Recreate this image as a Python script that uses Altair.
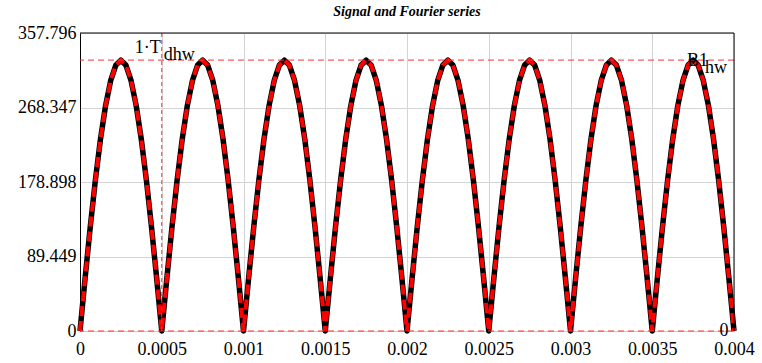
import altair as alt
import pandas as pd

# ---- values ----
period = 0.0005
hump_starts = [0.0, 0.0005, 0.001, 0.0015, 0.002, 0.0025, 0.003, 0.0035]
hump_phase = [i / 16 for i in range(17)]
hump_values = [0, 63.46, 124.48, 180.71, 230.0, 270.45, 300.51, 319.02, 325.27,
               319.02, 300.51, 270.45, 230.0, 180.71, 124.48, 63.46, 0]
peak = 325.27
y_ticks = [0, 89.449, 178.898, 268.347, 357.796]
x_ticks = [0, 0.0005, 0.001, 0.0015, 0.002, 0.0025, 0.003, 0.0035, 0.004]
y_max = 357.796
x_max = 0.004

rows = []
for s in hump_starts:
    for p, v in zip(hump_phase, hump_values):
        if rows and p == 0:
            continue
        rows.append({"t": s + p * period, "v": v})
df = pd.DataFrame(rows)

font = "Liberation Serif"
xs = alt.Scale(domain=[0, x_max], nice=False, zero=False)
ys = alt.Scale(domain=[0, y_max], nice=False, zero=False)

x_axis = alt.Axis(values=x_ticks, format="~g", title=None, grid=True,
                  domainColor="#c8c8c8", labelPadding=9)
y_axis = alt.Axis(values=y_ticks, title=None, grid=True,
                  domainColor="black", labelPadding=4,
                  labelExpr="datum.value == 0 ? '0' : format(datum.value, '.3f')")

base = alt.Chart(df)
sig = base.mark_line(color="black", strokeWidth=5.5, strokeJoin="round").encode(
    x=alt.X("t:Q", scale=xs, axis=x_axis),
    y=alt.Y("v:Q", scale=ys, axis=y_axis),
)
four = base.mark_line(color="#ff0000", strokeWidth=4, strokeDash=[10, 5]).encode(
    x=alt.X("t:Q", scale=xs, axis=x_axis), y=alt.Y("v:Q", scale=ys, axis=y_axis))

hlines = alt.Chart(pd.DataFrame({"y": [peak, 0]})).mark_rule(
    color="#ff3030", strokeWidth=1, strokeDash=[6, 4]).encode(y=alt.Y("y:Q", scale=ys, axis=y_axis))
vline = alt.Chart(pd.DataFrame({"x": [period]})).mark_rule(
    color="#ff3030", strokeWidth=1, strokeDash=[4, 3]).encode(x=alt.X("x:Q", scale=xs, axis=x_axis))

top_rule = alt.Chart(pd.DataFrame({"y": [y_max]})).mark_rule(color="black", strokeWidth=1).encode(
    y=alt.Y("y:Q", scale=ys, axis=y_axis))
right_rule = alt.Chart(pd.DataFrame({"x": [x_max]})).mark_rule(color="black", strokeWidth=1).encode(
    x=alt.X("x:Q", scale=xs, axis=x_axis))

lab_right = alt.Chart(pd.DataFrame({"x": [period], "y": [333.8], "s": ["1·T"]})).mark_text(
    align="right", baseline="alphabetic", font=font, fontSize=18, dx=-1, color="black").encode(
    x=alt.X("x:Q", scale=xs, axis=x_axis), y=alt.Y("y:Q", scale=ys, axis=y_axis), text="s:N")
lab_left = alt.Chart(pd.DataFrame({"x": [period, 0.0037, 0.00381],
                                   "y": [325.4, 318.2, 309.8],
                                   "s": ["dhw", "B1", "hw"]})).mark_text(
    align="left", baseline="alphabetic", font=font, fontSize=18, dx=2, color="black").encode(
    x=alt.X("x:Q", scale=xs, axis=x_axis), y=alt.Y("y:Q", scale=ys, axis=y_axis), text="s:N")
lab_zero = alt.Chart(pd.DataFrame({"x": [0.003939], "y": [-6.5], "s": ["0"]})).mark_text(
    align="center", baseline="alphabetic", font=font, fontSize=18, color="black").encode(
    x=alt.X("x:Q", scale=xs, axis=x_axis), y=alt.Y("y:Q", scale=ys, axis=y_axis), text="s:N")

chart = alt.layer(sig, four, hlines, vline, top_rule, right_rule, lab_right, lab_left, lab_zero).properties(
    width=654, height=298,
    autosize=alt.AutoSizeParams(type="none"),
    padding={"left": 80, "top": 33, "right": 28, "bottom": 32},
    title=alt.TitleParams("Signal and Fourier series", font=font, fontSize=14,
                          fontWeight="bold", fontStyle="italic", color="black",
                          anchor="middle", offset=5),
).configure_view(stroke=None).configure(background="white").configure_axis(
    labelFont=font, labelFontSize=18, labelColor="black", ticks=False,
    gridColor="#d4d4d4", labelFlush=False, labelOverlap=False,
)

chart.save("out.html", embed_options={"renderer": "svg", "actions": False})
